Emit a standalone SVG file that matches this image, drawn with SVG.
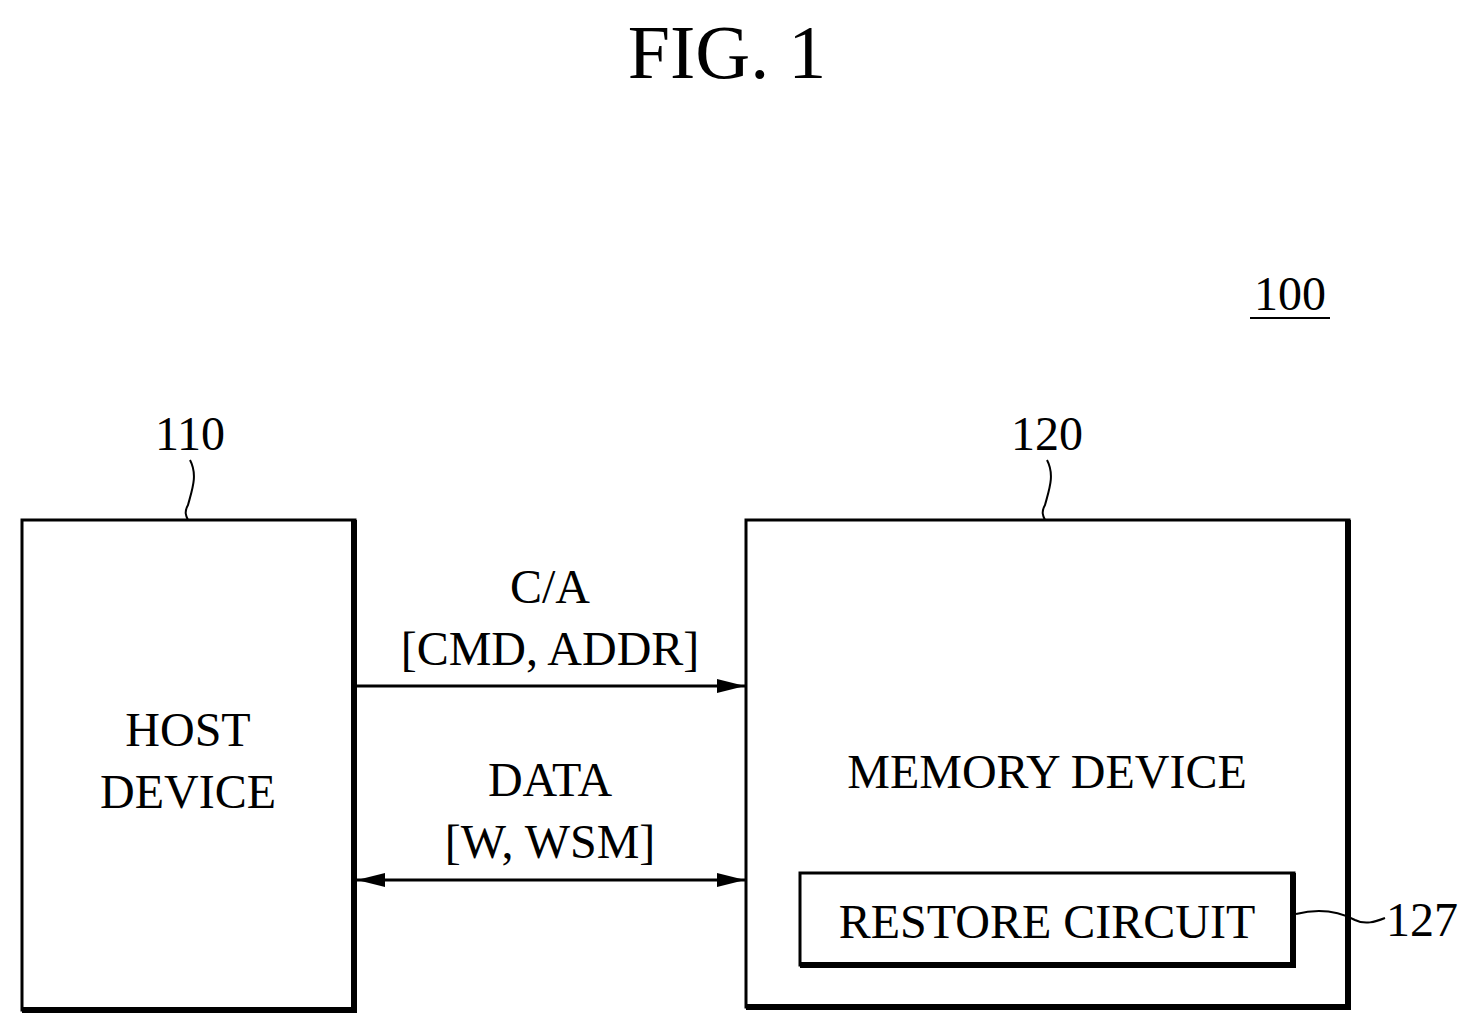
<svg xmlns="http://www.w3.org/2000/svg" width="1479" height="1033" viewBox="0 0 1479 1033">
<style>
text{font-family:"Liberation Serif",serif;fill:#000}
.b{fill:none;stroke:#000;stroke-width:3}
.s{fill:none;stroke:#000;stroke-width:6}
.l{fill:none;stroke:#000;stroke-width:2}
</style>
<defs><marker id="a" markerWidth="28" markerHeight="14" refX="28" refY="7" orient="auto-start-reverse" markerUnits="userSpaceOnUse"><path d="M0,0L28,7L0,14z"/></marker></defs>
<rect width="1479" height="1033" fill="#fff"/>
<text x="727" y="78" font-size="76" text-anchor="middle">FIG. 1</text>
<text x="1290" y="310" font-size="48" text-anchor="middle">100</text>
<line x1="1250" y1="318" x2="1330" y2="318" class="l"/>
<g id="host">
<text x="190" y="450" font-size="48" text-anchor="middle">110</text>
<path class="l" d="M190,460 C198,475 192,490 188,505 C184,512 186,516 188,520"/>
<rect x="22" y="520" width="333" height="490" class="b"/>
<path class="s" d="M354,520V1010H22"/>
<text x="188" y="746" font-size="48" text-anchor="middle">HOST</text>
<text x="188" y="808" font-size="48" text-anchor="middle">DEVICE</text>
</g>
<g id="memory">
<text x="1047" y="450" font-size="48" text-anchor="middle">120</text>
<path class="l" d="M1047,460 C1055,475 1049,490 1045,505 C1041,512 1043,516 1045,520"/>
<rect x="746" y="520" width="603" height="487" class="b"/>
<path class="s" d="M1348,520V1007H746"/>
<text x="1047" y="788" font-size="48" text-anchor="middle">MEMORY DEVICE</text>
</g>
<g id="restore">
<rect x="800" y="873" width="494" height="92" class="b"/>
<path class="s" d="M1293,873V965H800"/>
<text x="1047" y="938" font-size="48" text-anchor="middle">RESTORE CIRCUIT</text>
<path class="l" d="M1296,914 C1320,908 1340,912 1355,920 C1365,925 1375,922 1385,918"/>
<text x="1386" y="936" font-size="48">127</text>
</g>
<g id="connectors">
<line x1="357" y1="686" x2="745" y2="686" stroke="#000" stroke-width="3" marker-end="url(#a)"/>
<line x1="357" y1="880" x2="745" y2="880" stroke="#000" stroke-width="3" marker-start="url(#a)" marker-end="url(#a)"/>
<text x="550" y="603" font-size="48" text-anchor="middle">C/A</text>
<text x="550" y="665" font-size="48" text-anchor="middle">[CMD, ADDR]</text>
<text x="550" y="796" font-size="48" text-anchor="middle">DATA</text>
<text x="550" y="858" font-size="48" text-anchor="middle">[W, WSM]</text>
</g>
</svg>
